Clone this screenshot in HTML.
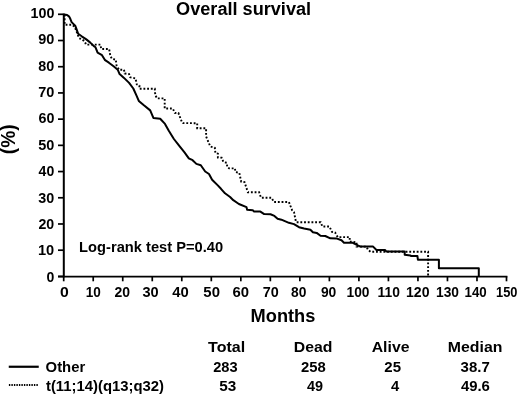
<!DOCTYPE html>
<html><head><meta charset="utf-8"><title>Overall survival</title>
<style>
html,body{margin:0;padding:0;background:#fff;}
body{width:520px;height:396px;overflow:hidden;font-family:"Liberation Sans",sans-serif;}
svg{display:block;will-change:transform;}
text{font-family:"Liberation Sans",sans-serif;font-weight:bold;fill:#000;}
</style></head><body>
<svg width="520" height="396" viewBox="0 0 520 396">
<rect width="520" height="396" fill="#fff"/>

<g stroke="#000" fill="none" stroke-linecap="butt">
<line x1="63.800000000000004" y1="13.4" x2="63.800000000000004" y2="277.29999999999995" stroke-width="2"/>
<line x1="58" y1="276.5" x2="507.4" y2="276.5" stroke-width="1.75"/>
</g>
<g stroke="#000" stroke-width="1.7" fill="none">
<line x1="58" y1="276.40" x2="63.7" y2="276.40"/>
<line x1="58" y1="250.19" x2="63.7" y2="250.19"/>
<line x1="58" y1="223.98" x2="63.7" y2="223.98"/>
<line x1="58" y1="197.77" x2="63.7" y2="197.77"/>
<line x1="58" y1="171.56" x2="63.7" y2="171.56"/>
<line x1="58" y1="145.35" x2="63.7" y2="145.35"/>
<line x1="58" y1="119.14" x2="63.7" y2="119.14"/>
<line x1="58" y1="92.93" x2="63.7" y2="92.93"/>
<line x1="58" y1="66.72" x2="63.7" y2="66.72"/>
<line x1="58" y1="40.51" x2="63.7" y2="40.51"/>
<line x1="58" y1="14.30" x2="63.7" y2="14.30"/>
<line x1="63.70" y1="276.4" x2="63.70" y2="281.3"/>
<line x1="93.22" y1="276.4" x2="93.22" y2="281.3"/>
<line x1="122.74" y1="276.4" x2="122.74" y2="281.3"/>
<line x1="152.26" y1="276.4" x2="152.26" y2="281.3"/>
<line x1="181.78" y1="276.4" x2="181.78" y2="281.3"/>
<line x1="211.30" y1="276.4" x2="211.30" y2="281.3"/>
<line x1="240.82" y1="276.4" x2="240.82" y2="281.3"/>
<line x1="270.34" y1="276.4" x2="270.34" y2="281.3"/>
<line x1="299.86" y1="276.4" x2="299.86" y2="281.3"/>
<line x1="329.38" y1="276.4" x2="329.38" y2="281.3"/>
<line x1="358.90" y1="276.4" x2="358.90" y2="281.3"/>
<line x1="388.42" y1="276.4" x2="388.42" y2="281.3"/>
<line x1="417.94" y1="276.4" x2="417.94" y2="281.3"/>
<line x1="447.46" y1="276.4" x2="447.46" y2="281.3"/>
<line x1="476.98" y1="276.4" x2="476.98" y2="281.3"/>
<line x1="506.50" y1="276.4" x2="506.50" y2="281.3"/>
</g>
<polyline points="64.6,14.6 64.6,24.7 69.6,24.7 71.4,24.7 74.6,26.6 76.1,30.2 77.6,34.5 79.2,38.3 82.7,39.6 85.3,42.8 86.0,44.6 100.4,44.6 101.2,49.0 109.1,49.0 110.4,56.0 112.0,58.9 115.8,59.6 116.5,65.3 119.0,69.7 124.0,69.7 124.7,73.5 129.1,74.1 130.2,77.3 135.5,78.4 136.8,84.4 139.4,85.6 139.4,88.8 154.8,88.8 155.3,95.2 157.1,98.4 164.7,98.4 164.7,108.5 172.8,108.5 174.8,112.9 178.4,113.0 182.1,122.6 183.0,123.1 197.2,123.2 197.2,128.3 206.1,128.3 206.1,136.5 210.3,146.5 214.8,147.7 215.4,153.1 217.9,153.7 217.9,157.5 221.6,157.7 223.4,162.0 226.7,162.7 227.3,167.1 229.2,168.4 234.9,168.4 235.5,172.1 239.3,172.8 241.2,181.7 244.5,182.1 247.9,192.3 259.1,192.3 261.0,197.7 271.5,197.7 273.9,202.0 288.9,202.0 292.1,210.2 294.0,212.1 295.9,221.6 296.5,222.3 320.7,222.3 322.4,226.5 329.4,226.5 332.0,231.9 335.1,232.5 337.7,237.1 349.7,237.1 349.7,241.6 356.6,242.2 356.6,246.6 366.5,246.6 368.0,249.8 370.5,251.7 428.1,251.7 428.1,275.5" fill="none" stroke="#000" stroke-width="1.9" stroke-dasharray="1.85 1.85" stroke-linejoin="miter"/>
<polyline points="64.1,14.6 67.1,15.0 69.2,16.6 70.3,18.8 71.6,22.1 75.2,25.7 76.7,29.7 78.2,33.8 81.7,36.3 86.3,39.4 90.3,42.6 94.3,46.4 95.5,47.3 97.6,52.7 102.0,55.2 105.1,60.2 108.9,62.7 113.9,66.5 117.7,69.7 119.6,74.1 124.0,77.9 129.1,82.9 133.3,88.5 136.3,95.2 138.8,100.9 143.9,105.3 150.2,110.4 153.4,117.9 160.2,118.7 165.0,123.9 168.8,130.8 173.9,139.0 178.9,145.4 184.5,152.4 188.8,158.3 192.6,160.2 196.4,163.9 200.8,165.2 205.2,171.5 209.0,174.0 212.1,179.7 217.8,185.4 221.0,188.8 225.0,193.3 230.1,197.0 233.3,200.2 238.9,204.0 246.5,207.1 247.1,209.7 252.8,210.3 254.1,211.6 260.4,211.6 264.2,214.1 270.5,214.3 274.4,215.9 277.6,218.8 281.4,219.7 288.9,222.8 294.0,224.1 299.0,227.2 304.1,228.5 310.4,229.8 312.9,232.3 316.7,232.9 320.5,235.7 325.3,236.0 330.3,238.3 336.4,238.4 341.5,240.3 344.0,242.8 352.8,242.8 357.9,245.4 360.4,246.6 373.1,246.6 376.5,250.0 385.2,250.0 386.4,251.6 404.7,251.6 404.7,254.7 410.4,255.4 411.0,256.0 417.4,256.0 417.9,259.7 438.9,259.7 438.9,268.2 478.8,268.2 478.8,276.0" fill="none" stroke="#000" stroke-width="2" stroke-linejoin="round"/>
<line x1="8.75" y1="366.75" x2="38.75" y2="366.75" stroke="#000" stroke-width="2.2"/>
<line x1="8.9" y1="385" x2="38.75" y2="385" stroke="#000" stroke-width="1.8" stroke-dasharray="1.4 1.1"/>
<text id="title" x="176.09" y="14.60" font-size="18" textLength="135.04" lengthAdjust="spacingAndGlyphs">Overall survival</text>
<text id="months" x="250.60" y="321.50" font-size="18" textLength="64.74" lengthAdjust="spacingAndGlyphs">Months</text>
<text id="logrank" x="79.12" y="251.70" font-size="14.8" textLength="144.09" lengthAdjust="spacingAndGlyphs">Log-rank test P=0.40</text>
<text id="other" x="45.60" y="372.30" font-size="14.8" textLength="39.62" lengthAdjust="spacingAndGlyphs">Other</text>
<text id="t1114" x="45.96" y="391.20" font-size="14.8" textLength="118.08" lengthAdjust="spacingAndGlyphs">t(11;14)(q13;q32)</text>
<text id="total" x="208.08" y="352.40" font-size="15.3" textLength="37.05" lengthAdjust="spacingAndGlyphs">Total</text>
<text id="n283" x="213.21" y="372.00" font-size="14.4" textLength="24.46" lengthAdjust="spacingAndGlyphs">283</text>
<text id="n53" x="219.29" y="390.90" font-size="14.4" textLength="17.03" lengthAdjust="spacingAndGlyphs">53</text>
<text id="dead" x="293.88" y="352.40" font-size="15.3" textLength="38.53" lengthAdjust="spacingAndGlyphs">Dead</text>
<text id="n258" x="300.98" y="372.00" font-size="14.4" textLength="24.74" lengthAdjust="spacingAndGlyphs">258</text>
<text id="n49" x="307.07" y="390.90" font-size="14.4" textLength="16.06" lengthAdjust="spacingAndGlyphs">49</text>
<text id="alive" x="371.71" y="352.40" font-size="15.3" textLength="37.79" lengthAdjust="spacingAndGlyphs">Alive</text>
<text id="n25" x="384.31" y="372.00" font-size="14.4" textLength="16.70" lengthAdjust="spacingAndGlyphs">25</text>
<text id="n4" x="390.90" y="390.90" font-size="14.4" textLength="8.24" lengthAdjust="spacingAndGlyphs">4</text>
<text id="median" x="447.84" y="352.40" font-size="15.3" textLength="54.55" lengthAdjust="spacingAndGlyphs">Median</text>
<text id="n387" x="460.64" y="372.00" font-size="14.4" textLength="29.23" lengthAdjust="spacingAndGlyphs">38.7</text>
<text id="n496" x="460.90" y="390.90" font-size="14.4" textLength="29.02" lengthAdjust="spacingAndGlyphs">49.6</text>
<text id="x0" x="60.08" y="296.80" font-size="14.2" textLength="8.76" lengthAdjust="spacingAndGlyphs">0</text>
<text id="x10" x="85.84" y="296.80" font-size="14.2" textLength="15.06" lengthAdjust="spacingAndGlyphs">10</text>
<text id="x20" x="114.47" y="296.80" font-size="14.2" textLength="15.53" lengthAdjust="spacingAndGlyphs">20</text>
<text id="x30" x="142.51" y="296.80" font-size="14.2" textLength="16.19" lengthAdjust="spacingAndGlyphs">30</text>
<text id="x40" x="172.22" y="296.80" font-size="14.2" textLength="16.48" lengthAdjust="spacingAndGlyphs">40</text>
<text id="x50" x="203.38" y="296.80" font-size="14.2" textLength="16.59" lengthAdjust="spacingAndGlyphs">50</text>
<text id="x60" x="232.49" y="296.80" font-size="14.2" textLength="16.53" lengthAdjust="spacingAndGlyphs">60</text>
<text id="x70" x="262.65" y="296.80" font-size="14.2" textLength="15.99" lengthAdjust="spacingAndGlyphs">70</text>
<text id="x80" x="291.02" y="296.80" font-size="14.2" textLength="15.35" lengthAdjust="spacingAndGlyphs">80</text>
<text id="x90" x="320.90" y="296.80" font-size="14.2" textLength="15.43" lengthAdjust="spacingAndGlyphs">90</text>
<text id="x100" x="346.55" y="296.80" font-size="14.2" textLength="22.98" lengthAdjust="spacingAndGlyphs">100</text>
<text id="x110" x="377.53" y="296.80" font-size="14.2" textLength="22.34" lengthAdjust="spacingAndGlyphs">110</text>
<text id="x120" x="406.04" y="296.80" font-size="14.2" textLength="23.49" lengthAdjust="spacingAndGlyphs">120</text>
<text id="x130" x="436.07" y="296.80" font-size="14.2" textLength="22.95" lengthAdjust="spacingAndGlyphs">130</text>
<text id="x140" x="464.54" y="296.80" font-size="14.2" textLength="22.19" lengthAdjust="spacingAndGlyphs">140</text>
<text id="x150" x="496.09" y="296.80" font-size="14.2" textLength="21.40" lengthAdjust="spacingAndGlyphs">150</text>
<text id="y0" x="46.47" y="281.70" font-size="14.2" textLength="7.81" lengthAdjust="spacingAndGlyphs">0</text>
<text id="y10" x="37.90" y="255.30" font-size="14.2" textLength="16.25" lengthAdjust="spacingAndGlyphs">10</text>
<text id="y20" x="38.40" y="228.90" font-size="14.2" textLength="15.75" lengthAdjust="spacingAndGlyphs">20</text>
<text id="y30" x="38.31" y="202.50" font-size="14.2" textLength="15.96" lengthAdjust="spacingAndGlyphs">30</text>
<text id="y40" x="38.62" y="176.10" font-size="14.2" textLength="15.65" lengthAdjust="spacingAndGlyphs">40</text>
<text id="y50" x="38.17" y="149.70" font-size="14.2" textLength="16.09" lengthAdjust="spacingAndGlyphs">50</text>
<text id="y60" x="38.45" y="123.30" font-size="14.2" textLength="15.88" lengthAdjust="spacingAndGlyphs">60</text>
<text id="y70" x="38.19" y="96.90" font-size="14.2" textLength="16.13" lengthAdjust="spacingAndGlyphs">70</text>
<text id="y80" x="38.39" y="70.50" font-size="14.2" textLength="15.93" lengthAdjust="spacingAndGlyphs">80</text>
<text id="y90" x="38.27" y="44.10" font-size="14.2" textLength="16.10" lengthAdjust="spacingAndGlyphs">90</text>
<text id="y100" x="30.50" y="17.70" font-size="14.2" textLength="23.83" lengthAdjust="spacingAndGlyphs">100</text>
<text id="pct" transform="translate(14.90,139.30) rotate(-90)" font-size="20" text-anchor="middle" textLength="29.70" lengthAdjust="spacingAndGlyphs">(%)</text>
</svg>
</body></html>
